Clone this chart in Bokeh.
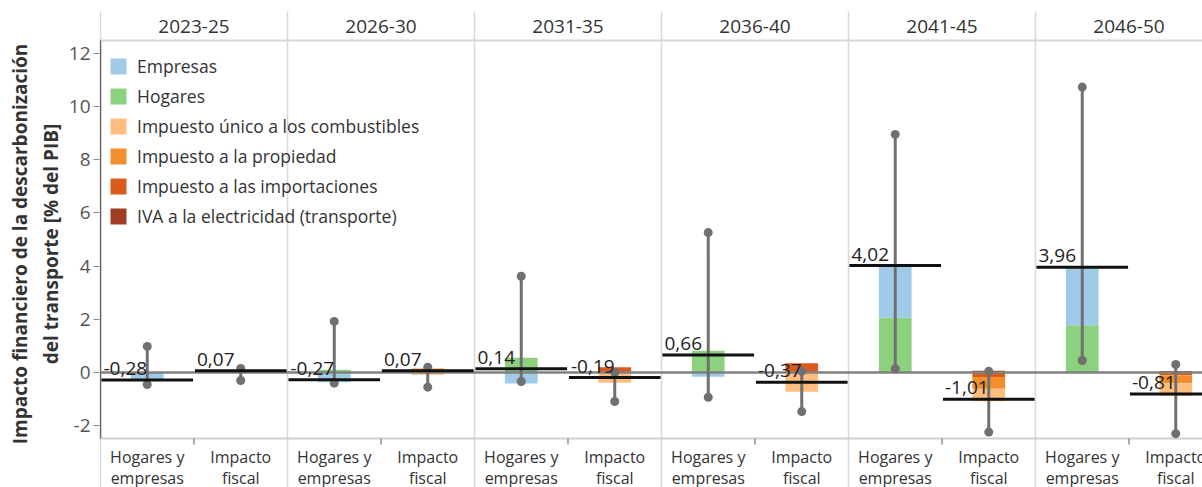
from bokeh.plotting import figure
from bokeh.models import ColumnDataSource, Range1d, FixedTicker, Legend, LegendItem
from bokeh.core.properties import value
from bokeh.embed import file_html
from bokeh.resources import INLINE

# ---------------- data ----------------
periods = ["2023-25", "2026-30", "2031-35", "2036-40", "2041-45", "2046-50"]
group_line1 = ["Hogares y", "Impacto"]
group_line2 = ["empresas", "fiscal"]

# Hogares y empresas
empresas = [-0.22, -0.37, -0.41, -0.16, 1.96, 2.18]
hogares = [-0.06, 0.10, 0.55, 0.82, 2.06, 1.78]
hh_net = [-0.28, -0.27, 0.14, 0.66, 4.02, 3.96]
hh_low = [-0.45, -0.40, -0.34, -0.93, 0.14, 0.45]
hh_high = [0.98, 1.92, 3.62, 5.26, 8.95, 10.73]

# Impacto fiscal
combustibles = [-0.02, -0.08, -0.39, -0.72, -0.47, -0.47]
propiedad = [0.04, 0.05, 0.0, 0.0, -0.44, -0.30]
importaciones = [0.05, 0.10, 0.20, 0.35, -0.17, -0.10]
iva = [0.0, 0.0, 0.0, 0.0, 0.07, 0.06]
fis_net = [0.07, 0.07, -0.19, -0.37, -1.01, -0.81]
fis_low = [-0.30, -0.55, -1.09, -1.47, -2.24, -2.30]
fis_high = [0.15, 0.20, 0.0, 0.05, 0.05, 0.30]

y_ticks = [-2, 0, 2, 4, 6, 8, 10, 12]
y_tick_labels = {t: str(t) for t in y_ticks}

# ---------------- style ----------------
FONT = "Open Sans"
C_EMP, C_HOG = "#A0CBE8", "#8CD17D"
C_COMB, C_PROP, C_IMP, C_IVA = "#FFBE7D", "#F28E2B", "#DB5B1F", "#9E3D22"
GRID = "#d8d8d8"
WHISK = "#707070"

W, H = 1202, 487
BORDER_L = 99            # frame left in canvas px
PANEL_PX = 187.0         # px per panel (x unit)
ZERO_PX = 372.0          # canvas y of value 0
PX_PER_UNIT = 26.6


def yc(py):
    """canvas pixel -> data y"""
    return (ZERO_PX - py) / PX_PER_UNIT


x0 = -1.0 / PANEL_PX
x1 = x0 + (W - BORDER_L) / PANEL_PX

p = figure(width=W, height=H, output_backend="svg", toolbar_location=None,
           x_range=Range1d(x0, x1), y_range=Range1d(yc(H), yc(0)),
           min_border_left=BORDER_L, min_border_right=0, min_border_top=0,
           min_border_bottom=0)
p.xaxis.visible = False
p.xgrid.visible = False
p.ygrid.visible = False
p.outline_line_color = None
p.background_fill_color = "white"

# y axis
ya = p.yaxis[0]
ya.ticker = FixedTicker(ticks=y_ticks)
ya.major_label_overrides = y_tick_labels
ya.axis_line_color = None
ya.major_tick_out = 6
ya.major_tick_in = 0
ya.major_tick_line_color = "#888888"
ya.minor_tick_line_color = None
ya.major_label_text_font = FONT
ya.major_label_text_font_size = "19px"
ya.major_label_text_color = "#555555"
ya.major_label_standoff = 3
ya.axis_label = "Impacto financiero de la descarbonización\ndel transporte [% del PIB]"
ya.axis_label_text_font = FONT
ya.axis_label_text_font_size = "19px"
ya.axis_label_text_font_style = "bold"
ya.axis_label_text_color = "#333333"
ya.axis_label_standoff = 2

n = len(periods)
idx = list(range(n))
hh_x = [i + 0.25 for i in idx]
fis_x = [i + 0.75 for i in idx]

# frame structure: separators, header / footer rules
sep_x = idx
p.segment(x0=sep_x, y0=[yc(11)] * n, x1=sep_x, y1=[yc(H + 10)] * n,
          line_color=GRID, line_width=1.5)
p.segment(x0=[x0], y0=[yc(40)], x1=[x1], y1=[yc(40)], line_color=GRID, line_width=2)
p.segment(x0=[x0], y0=[yc(438)], x1=[x1], y1=[yc(438)], line_color="#cfcfcf", line_width=2)
p.segment(x0=[0], y0=[yc(438)], x1=[0], y1=[yc(40)], line_color="#666666", line_width=1.5)
mid_x = [i + 0.5 for i in idx]
p.segment(x0=mid_x, y0=[yc(438)] * n, x1=mid_x, y1=[yc(444)] * n,
          line_color="#777777", line_width=1.2)


# stacked bars
def stack(series_list):
    pos = [0.0] * n
    neg = [0.0] * n
    out = []
    for vals in series_list:
        b, t = [], []
        for i, v in enumerate(vals):
            if v >= 0:
                b.append(pos[i]); t.append(pos[i] + v); pos[i] += v
            else:
                b.append(neg[i]); t.append(neg[i] + v); neg[i] += v
        out.append((b, t))
    return out


BAR_W = 0.175
renderers = {}
hh_series = [("Hogares", hogares, C_HOG), ("Empresas", empresas, C_EMP)]
for (name, vals, col), (b, t) in zip(hh_series, stack([s[1] for s in hh_series])):
    src = ColumnDataSource(dict(x=hh_x, bottom=b, top=t))
    renderers[name] = p.vbar(x="x", bottom="bottom", top="top", width=BAR_W,
                             source=src, fill_color=col, line_color=None)

fis_series = [("IVA a la electricidad (transporte)", iva, C_IVA),
              ("Impuesto a las importaciones", importaciones, C_IMP),
              ("Impuesto a la propiedad", propiedad, C_PROP),
              ("Impuesto único a los combustibles", combustibles, C_COMB)]
for (name, vals, col), (b, t) in zip(fis_series, stack([s[1] for s in fis_series])):
    src = ColumnDataSource(dict(x=fis_x, bottom=b, top=t))
    renderers[name] = p.vbar(x="x", bottom="bottom", top="top", width=BAR_W,
                             source=src, fill_color=col, line_color=None)

# zero line
p.segment(x0=[0], y0=[0], x1=[x1], y1=[0], line_color="#808080", line_width=2.5)

# whiskers
for xs, lo, hi in [(hh_x, hh_low, hh_high), (fis_x, fis_low, fis_high)]:
    p.segment(x0=xs, y0=lo, x1=xs, y1=hi, line_color=WHISK, line_width=3)
    p.scatter(x=xs + xs, y=lo + hi, size=9, fill_color=WHISK, line_color=None)

# net lines
p.segment(x0=[i + 0.005 for i in idx], y0=hh_net, x1=[i + 0.495 for i in idx], y1=hh_net,
          line_color="#111111", line_width=3)
p.segment(x0=[i + 0.505 for i in idx], y0=fis_net, x1=[i + 0.995 for i in idx], y1=fis_net,
          line_color="#111111", line_width=3)


def fmt(v):
    return f"{v:.2f}".replace(".", ",")


LABEL_GAP = 5.0 / PX_PER_UNIT   # label bottom sits a few px above its line
lab = ColumnDataSource(dict(
    x=[i + 0.016 for i in idx] + [i + 0.516 for i in idx],
    y=[v + LABEL_GAP for v in hh_net + fis_net],
    t=[fmt(v) for v in hh_net + fis_net]))
p.text(x="x", y="y", text="t", source=lab, text_font=value(FONT),
       text_font_size="19px", text_color="#222222", text_align="left",
       text_baseline="bottom")

# headers
p.text(x=mid_x, y=[yc(26)] * n, text=periods, text_font=value(FONT),
       text_font_size="19px", text_color="#333333", text_align="center",
       text_baseline="middle")

# group labels (two lines)
gx = hh_x + fis_x
p.text(x=gx, y=[yc(456)] * (2 * n), text=[group_line1[0]] * n + [group_line1[1]] * n,
       text_font=value(FONT), text_font_size="16px", text_color="#333333",
       text_align="center", text_baseline="middle")
p.text(x=gx, y=[yc(477)] * (2 * n), text=[group_line2[0]] * n + [group_line2[1]] * n,
       text_font=value(FONT), text_font_size="16px", text_color="#333333",
       text_align="center", text_baseline="middle")

# legend
order = ["Empresas", "Hogares", "Impuesto único a los combustibles",
         "Impuesto a la propiedad", "Impuesto a las importaciones",
         "IVA a la electricidad (transporte)"]
items = [LegendItem(label=k, renderers=[renderers[k]]) for k in order]
leg = Legend(items=items, location=(9, H - 55 - 173), glyph_width=20, glyph_height=20,
             label_height=20, spacing=6, padding=0, margin=0, label_standoff=9,
             label_text_font=FONT, label_text_font_size="17.5px",
             label_text_color="#333333", background_fill_alpha=0,
             border_line_color=None)
p.add_layout(leg)

open("out.html", "w").write(file_html(p, INLINE))
